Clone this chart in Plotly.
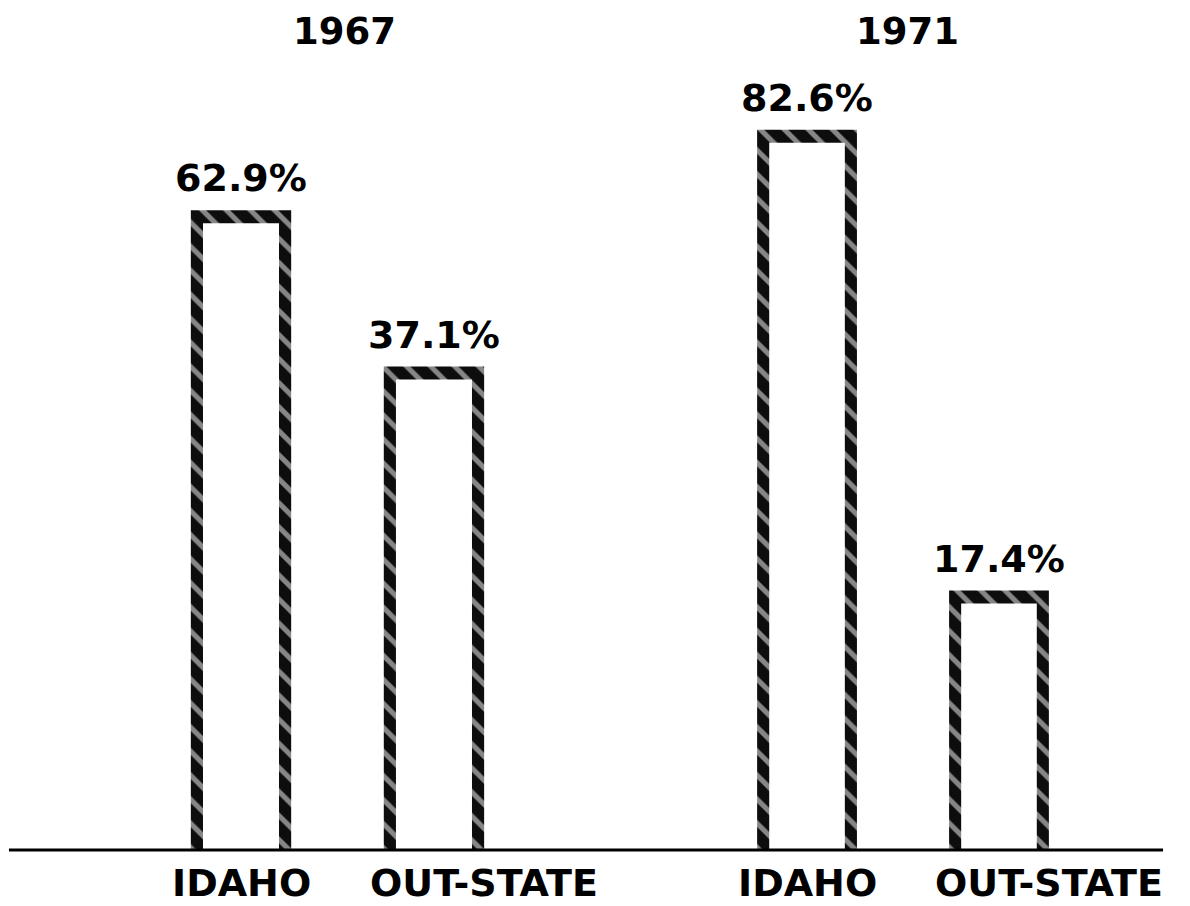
import math
import plotly.graph_objects as go
from plotly.subplots import make_subplots

years = ["1967", "1971"]
groups = ["IDAHO", "OUT-STATE"]
pct_1967 = [62.9, 37.1]
pct_1971 = [82.6, 17.4]

# the original drawing is not to linear scale; a hidden log axis matches it well
y_range = [0.8598, 2.0955]
# inner white bars sit on a copy of the axis shifted by ~13 px, leaving a hatched frame
frame_shift = 0.0191
label_shift = [0, 50]
bold = dict(family="DejaVu Sans", color="black", weight="bold")

fig = make_subplots(rows=1, cols=2)

for i, vals in enumerate([pct_1967, pct_1971]):
    xr = "x" if i == 0 else "x2"
    yr = "y" if i == 0 else "y2"
    inner_y = "y3" if i == 0 else "y4"

    # hatched outer bar
    fig.add_trace(go.Bar(
        x=groups, y=vals, width=0.52,
        cliponaxis=False,
        marker=dict(
            color="#0d0d0d", line=dict(width=0),
            pattern=dict(shape="\\", fgcolor="white", bgcolor="#0d0d0d",
                         size=17, solidity=0.3),
        ),
        xaxis=xr, yaxis=yr,
    ))
    # white inside of the bar
    fig.add_trace(go.Bar(
        x=groups, y=vals, width=0.394,
        marker=dict(color="white", line=dict(width=0)),
        xaxis=xr, yaxis=inner_y,
    ))

    for j, g in enumerate(groups):
        # value label above the bar (log axis -> annotation y in log units)
        fig.add_annotation(
            x=g, xref=xr, y=math.log10(vals[j]), yref=yr,
            yanchor="bottom", yshift=8,
            text=f"{vals[j]}%", showarrow=False,
            font=dict(size=38, **bold),
        )
        # category label under the baseline
        fig.add_annotation(
            x=g, xref=xr,
            y=-0.0392, yref="paper", yanchor="middle",
            xshift=label_shift[j],
            text=g, showarrow=False,
            font=dict(size=38, **bold),
        )

for yr_text, xp in zip(years, [0.2851, 0.7606]):
    fig.add_annotation(
        x=xp, y=0.9715, xref="paper", yref="paper",
        xanchor="center", yanchor="middle",
        text=yr_text, showarrow=False,
        font=dict(size=37, **bold),
    )

fig.add_shape(type="line", xref="paper", yref="paper",
              x0=0.0008, x1=0.9772, y0=0, y1=0,
              line=dict(color="black", width=3))

fig.update_xaxes(showticklabels=False, showgrid=False, zeroline=False, showline=False,
                 range=[-0.5, 1.5])
fig.update_layout(
    xaxis=dict(domain=[0.1155, 0.4420]),
    xaxis2=dict(domain=[0.5948, 0.9196]),
    yaxis=dict(type="log", range=y_range, visible=False),
    yaxis2=dict(type="log", range=y_range, visible=False),
    yaxis3=dict(type="log", range=[y_range[0] + frame_shift, y_range[1] + frame_shift],
                visible=False, overlaying="y", anchor="x"),
    yaxis4=dict(type="log", range=[y_range[0] + frame_shift, y_range[1] + frame_shift],
                visible=False, overlaying="y2", anchor="x2"),
)

fig.update_layout(
    width=1182, height=898,
    margin=dict(l=0, r=0, t=0, b=56),
    showlegend=False,
    plot_bgcolor="white", paper_bgcolor="white",
)

fig.write_html("out.html")
